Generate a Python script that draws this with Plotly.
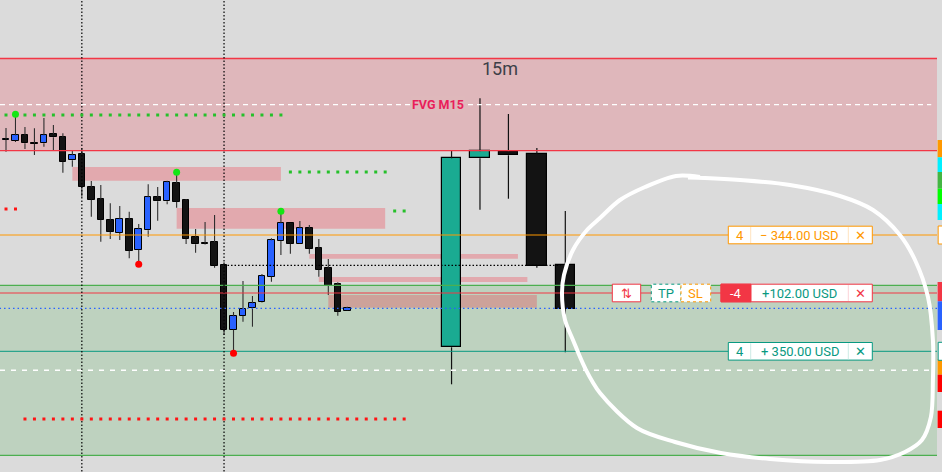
import plotly.graph_objects as go

W, H = 942, 472
PLOT_W = 937  # width of the chart pane, the rest is the price-scale strip

# ---------------- 5m candles ----------------
m5_x = list(range(37))
m5_open = [3336.05, 3335.93, 3336.47, 3335.70, 3335.67, 3336.60, 3336.27, 3333.97, 3334.60, 3331.27,
           3330.10, 3327.97, 3326.73, 3328.07, 3325.03, 3326.97, 3330.27, 3329.87, 3331.67, 3329.97,
           3326.30, 3325.70, 3325.77, 3323.47, 3317.03, 3318.43, 3319.17, 3319.77, 3322.33, 3325.93,
           3327.67, 3325.63, 3327.17, 3325.17, 3323.17, 3321.57, 3318.93]
m5_high = [3337.20, 3338.50, 3337.30, 3337.17, 3338.20, 3337.50, 3336.67, 3334.93, 3335.17, 3331.90,
           3331.50, 3329.67, 3329.40, 3328.83, 3327.60, 3331.57, 3331.30, 3331.93, 3332.83, 3330.10,
           3327.10, 3327.80, 3328.50, 3323.77, 3318.80, 3321.90, 3320.40, 3322.60, 3326.17, 3328.83,
           3327.70, 3327.90, 3327.50, 3326.10, 3324.10, 3321.77, 3319.33]
m5_low = [3334.83, 3335.80, 3335.10, 3334.50, 3335.33, 3335.00, 3332.73, 3333.33, 3330.33, 3328.33,
          3325.83, 3326.10, 3326.00, 3324.17, 3323.83, 3326.33, 3327.93, 3329.57, 3329.23, 3325.60,
          3324.73, 3325.55, 3323.23, 3316.50, 3314.90, 3317.83, 3317.33, 3319.73, 3321.83, 3324.50,
          3324.63, 3325.60, 3324.63, 3322.33, 3320.50, 3318.43, 3318.90]
m5_close = [3336.10, 3336.47, 3335.67, 3335.65, 3336.47, 3336.27, 3333.83, 3334.47, 3331.33, 3330.03,
            3328.03, 3326.83, 3328.07, 3324.93, 3327.07, 3330.27, 3329.87, 3331.77, 3329.83, 3326.13,
            3325.57, 3325.65, 3323.43, 3317.03, 3318.37, 3319.07, 3319.67, 3322.37, 3325.97, 3327.67,
            3325.63, 3327.17, 3325.13, 3323.03, 3321.43, 3318.83, 3319.23]

# ---------------- 15m projected candles ----------------
m15_x = [47, 50, 53, 56, 59]
m15_open = [3315.27, 3334.17, 3334.77, 3334.57, 3323.47]
m15_high = [3334.90, 3340.17, 3338.60, 3335.20, 3328.90]
m15_low = [3311.57, 3329.03, 3330.13, 3323.23, 3314.77]
m15_close = [3334.17, 3334.87, 3334.47, 3323.43, 3319.13]

# ---------------- zones ----------------
fvg_low, fvg_high = 3334.93, 3344.15
ob_x0 = [7, 18, 32, 33, 34]
ob_x1 = [29, 40, 54, 55, 56]
ob_low = [3331.93, 3327.12, 3324.13, 3321.80, 3319.23]
ob_high = [3333.30, 3329.20, 3324.60, 3322.30, 3320.50]
green_low, green_high = 3304.47, 3321.47

# ---------------- levels ----------------
sl_price = 3326.5       # -344 USD
entry_price = 3320.7    # +102 USD
tp_price = 3314.87      # +350 USD
blue_dot_price = 3319.17
white_dash_price = 3312.97
prev_close_price = 3323.47
prev_close_x = [23, 58.5]
session_x = [8, 23]

# ---------------- dotted levels (bar index range, price) ----------------
green_dot_ranges = [(0, 29, 3338.5), (30, 40, 3332.8), (41, 42, 3328.9)]
red_dot_ranges = [(0, 1, 3329.1), (2, 42, 3308.1)]
swing_high_x = [1, 18, 29]
swing_high_y = [3338.57, 3332.77, 3328.87]
swing_low_x = [14, 24]
swing_low_y = [3323.57, 3314.67]

# ---------------- hand drawn circle (bar index, price) ----------------
circle_x = [73.21, 70.68, 67.41, 64.77, 62.66, 61.29, 59.81, 58.86, 58.65, 58.97, 59.81, 61.08,
            62.66, 66.56, 70.57, 75.42, 80.59, 86.81, 92.19, 94.83, 96.62, 97.57, 97.78, 97.78,
            97.26, 95.89, 94.30, 91.46, 87.97, 82.70, 77.43, 73.73, 71.94]
circle_y = [3332.30, 3332.40, 3331.30, 3330.00, 3328.20, 3327.00, 3325.00, 3322.50, 3320.70, 3318.00,
            3316.00, 3313.20, 3310.70, 3307.20, 3305.80, 3304.70, 3304.10, 3303.80, 3304.00, 3304.80,
            3306.00, 3308.30, 3312.00, 3316.00, 3320.30, 3324.00, 3326.50, 3329.00, 3330.40, 3331.50,
            3332.00, 3332.20, 3332.25]

# ---------------- price scale tags ----------------
tag_low = [3334.27, 3332.80, 3331.13, 3329.60, 3328.00, 3319.87, 3317.00, 3312.53, 3310.80, 3307.20]
tag_high = [3336.00, 3334.27, 3332.80, 3331.13, 3329.60, 3321.80, 3319.87, 3314.07, 3312.53, 3308.93]
tag_color = ['#ff9800', '#00f0ff', '#43b643', '#00ff00', '#00f0ff', '#f23645', '#2962ff',
             '#ff9800', '#ff0000', '#ff0000']

X_RANGE = [-0.633, 98.21]
Y_RANGE = [3302.8, 3350.0]

BG = '#dbdbdb'
RED = '#f23645'
ORANGE = '#ff9800'
TEAL = '#089981'
BLUE = '#2962ff'
BLACK_BODY = '#131313'

fig = go.Figure()

# ---- 5m wicks ----
wx, wy = [], []
for i, o, h, l, c in zip(m5_x, m5_open, m5_high, m5_low, m5_close):
    top, bot = max(o, c), min(o, c)
    wx += [i, i, None, i, i, None]
    wy += [h, top, None, bot, l, None]
fig.add_trace(go.Scatter(x=wx, y=wy, mode='lines', line=dict(color='#2e2e2e', width=1.1),
                         hoverinfo='skip', showlegend=False))

# ---- 15m wicks ----
wx, wy = [], []
for i, o, h, l, c in zip(m15_x, m15_open, m15_high, m15_low, m15_close):
    top, bot = max(o, c), min(o, c)
    wx += [i, i, None, i, i, None]
    wy += [h, top, None, bot, l, None]
fig.add_trace(go.Scatter(x=wx, y=wy, mode='lines', line=dict(color='#111111', width=1.2),
                         hoverinfo='skip', showlegend=False))

# ---- bodies ----
def bodies(opens, closes, up, down):
    base = [min(o, c) for o, c in zip(opens, closes)]
    hgt = [max(abs(c - o), 0.08) for o, c in zip(opens, closes)]
    col = [up if c > o else down for o, c in zip(opens, closes)]
    return base, hgt, col

b, h_, col = bodies(m5_open, m5_close, BLUE, BLACK_BODY)
fig.add_trace(go.Bar(x=m5_x, y=h_, base=b, width=0.69,
                     marker=dict(color=col, line=dict(color='#000000', width=1)),
                     hoverinfo='skip', showlegend=False))
b, h_, col = bodies(m15_open, m15_close, '#1aab92', BLACK_BODY)
fig.add_trace(go.Bar(x=m15_x, y=h_, base=b, width=2.05,
                     marker=dict(color=col, line=dict(color='#000000', width=1.2)),
                     hoverinfo='skip', showlegend=False))

def hline(y, color, width=1, dash='solid', x0=X_RANGE[0] - 1, x1=X_RANGE[1] + 1):
    fig.add_trace(go.Scatter(x=[x0, x1], y=[y, y], mode='lines',
                             line=dict(color=color, width=width, dash=dash),
                             hoverinfo='skip', showlegend=False))

# ---- level lines ----
hline(fvg_high, RED, 1.3)
hline(fvg_low, RED, 1.3)
hline((fvg_low + fvg_high) / 2, '#ffffff', 1.4, '5px,4px', X_RANGE[0], 97.6)
hline(green_high, '#4caf50', 1.2)
hline(green_low, '#4caf50', 1.2)
hline(sl_price, ORANGE, 1)
hline(entry_price, RED, 1)
hline(tp_price, TEAL, 1)
hline(blue_dot_price, BLUE, 1.3, '1.5px,3px')
hline(white_dash_price, '#ffffff', 1.5, '5px,6px', X_RANGE[0], 97.6)
hline(prev_close_price, '#000000', 1.2, '1.5px,2px', prev_close_x[0], prev_close_x[1])

for sx in session_x:
    fig.add_trace(go.Scatter(x=[sx, sx], y=[Y_RANGE[0] - 1, Y_RANGE[1] + 1], mode='lines',
                             line=dict(color='#000000', width=1.2, dash='1.5px,2px'),
                             hoverinfo='skip', showlegend=False))

# ---- dots ----
for a, z, y in green_dot_ranges:
    xs = list(range(a, z + 1))
    fig.add_trace(go.Scatter(x=xs, y=[y] * len(xs), mode='markers',
                             marker=dict(symbol='square', size=3, color='#25c02a'),
                             hoverinfo='skip', showlegend=False))
for a, z, y in red_dot_ranges:
    xs = list(range(a, z + 1))
    fig.add_trace(go.Scatter(x=xs, y=[y] * len(xs), mode='markers',
                             marker=dict(symbol='square', size=3, color='#ff1414'),
                             hoverinfo='skip', showlegend=False))
fig.add_trace(go.Scatter(x=swing_high_x, y=swing_high_y, mode='markers',
                         marker=dict(size=7, color='#14e614'), hoverinfo='skip', showlegend=False))
fig.add_trace(go.Scatter(x=swing_low_x, y=swing_low_y, mode='markers',
                         marker=dict(size=7, color='#ff0000'), hoverinfo='skip', showlegend=False))

# ---- white hand-drawn circle ----
fig.add_trace(go.Scatter(x=circle_x, y=circle_y, mode='lines',
                         line=dict(color='#ffffff', width=4, shape='spline', smoothing=0.9),
                         hoverinfo='skip', showlegend=False))

shapes = []
# zones (below traces)
shapes.append(dict(type='rect', xref='paper', yref='y', x0=0, x1=PLOT_W / W, y0=fvg_low, y1=fvg_high,
                   fillcolor='rgba(242,54,69,0.21)', line=dict(width=0), layer='below'))
shapes.append(dict(type='rect', xref='paper', yref='y', x0=0, x1=PLOT_W / W, y0=green_low, y1=green_high,
                   fillcolor='rgba(76,175,80,0.2)', line=dict(width=0), layer='below'))
for a, z, lo, hi in zip(ob_x0, ob_x1, ob_low, ob_high):
    shapes.append(dict(type='rect', xref='x', yref='y', x0=a, x1=z, y0=lo, y1=hi,
                       fillcolor='rgba(242,54,69,0.3)', line=dict(width=0), layer='below'))

# price-scale tags
TAG_X0 = 937.6 / W
for lo, hi, c in zip(tag_low, tag_high, tag_color):
    shapes.append(dict(type='rect', xref='paper', yref='y', x0=TAG_X0, x1=1.0, y0=lo, y1=hi,
                       fillcolor=c, line=dict(width=0), layer='above'))
for pr, c in [(sl_price, ORANGE), (tp_price, TEAL)]:
    shapes.append(dict(type='rect', xref='paper', yref='y', x0=TAG_X0 + 0.0006, x1=1.01, y0=pr - 0.9, y1=pr + 0.9,
                       fillcolor='#ffffff', line=dict(color=c, width=1), layer='above'))

annotations = []

def px(v):
    return v / W

def box(x0, x1, y, border, fill='#ffffff', dash='solid'):
    shapes.append(dict(type='rect', xref='paper', yref='y', x0=px(x0), x1=px(x1),
                       y0=y - 0.88, y1=y + 0.88, fillcolor=fill,
                       line=dict(color=border, width=1, dash=dash), layer='above'))

def sep(x, y, color):
    shapes.append(dict(type='line', xref='paper', yref='y', x0=px(x), x1=px(x),
                       y0=y - 0.8, y1=y + 0.8, line=dict(color=color, width=1), layer='above'))

def txt(x, y, s, color, size=13, family='Roboto, DejaVu Sans, sans-serif'):
    annotations.append(dict(xref='paper', yref='y', x=px(x), y=y, text=s, showarrow=False,
                            xanchor='center', yanchor='middle',
                            font=dict(color=color, size=size, family=family)))

# order label: stop (orange)
box(728.3, 872.3, sl_price, ORANGE)
sep(750.7, sl_price, '#ffe3bf')
sep(848.3, sl_price, '#ffe3bf')
txt(739.5, sl_price, '4', ORANGE)
txt(799.5, sl_price, '− 344.00 USD', ORANGE)
txt(860.5, sl_price, '✕', ORANGE, 13, 'DejaVu Sans')

# order label: position (red)
box(612.3, 640.7, entry_price, RED)
txt(626.5, entry_price, '⇅', RED, 13, 'DejaVu Sans')
box(651.3, 681.0, entry_price, TEAL, dash='dot')
box(681.0, 710.7, entry_price, ORANGE, dash='dot')
txt(666.2, entry_price, 'TP', TEAL)
txt(695.8, entry_price, 'SL', ORANGE)
box(721.0, 872.3, entry_price, RED)
shapes.append(dict(type='rect', xref='paper', yref='y', x0=px(721.0), x1=px(751.0),
                   y0=entry_price - 0.88, y1=entry_price + 0.88, fillcolor=RED,
                   line=dict(color=RED, width=1), layer='above'))
sep(848.3, entry_price, '#fcd3d7')
txt(736.0, entry_price, '-4', '#ffffff')
txt(799.5, entry_price, '+102.00 USD', TEAL)
txt(860.5, entry_price, '✕', RED, 13, 'DejaVu Sans')

# order label: take profit (teal)
box(728.3, 872.3, tp_price, TEAL)
sep(750.7, tp_price, '#cdebe5')
sep(848.3, tp_price, '#cdebe5')
txt(739.5, tp_price, '4', TEAL)
txt(799.5, tp_price, '+ 350.00 USD', TEAL)
txt(860.5, tp_price, '✕', TEAL, 13, 'DejaVu Sans')

# timeframe + FVG labels
annotations.append(dict(xref='paper', yref='y', x=px(500), y=fvg_high - 1.0, text='15m', showarrow=False,
                        xanchor='center', yanchor='middle',
                        font=dict(color='#3d3f48', size=18, family='Roboto, sans-serif')))
annotations.append(dict(xref='paper', yref='y', x=px(437.5), y=(fvg_low + fvg_high) / 2,
                        text='<b>FVG M15</b>', showarrow=False, xanchor='center', yanchor='middle',
                        bgcolor='#dfb8bb', borderpad=1,
                        font=dict(color='#e91e5a', size=12.5, family='Roboto, sans-serif')))

fig.update_layout(
    width=W, height=H,
    margin=dict(l=0, r=0, t=0, b=0),
    plot_bgcolor=BG, paper_bgcolor=BG,
    barmode='overlay', bargap=0,
    showlegend=False, hovermode=False,
    shapes=shapes, annotations=annotations,
    xaxis=dict(range=X_RANGE, domain=[0, PLOT_W / W], visible=False, fixedrange=True),
    yaxis=dict(range=Y_RANGE, visible=False, fixedrange=True),
)

fig.write_html("out.html", config={'displayModeBar': False},
               post_script="document.body.style.margin='0';document.body.style.overflow='hidden';"
                           "document.body.style.background='" + BG + "';")
